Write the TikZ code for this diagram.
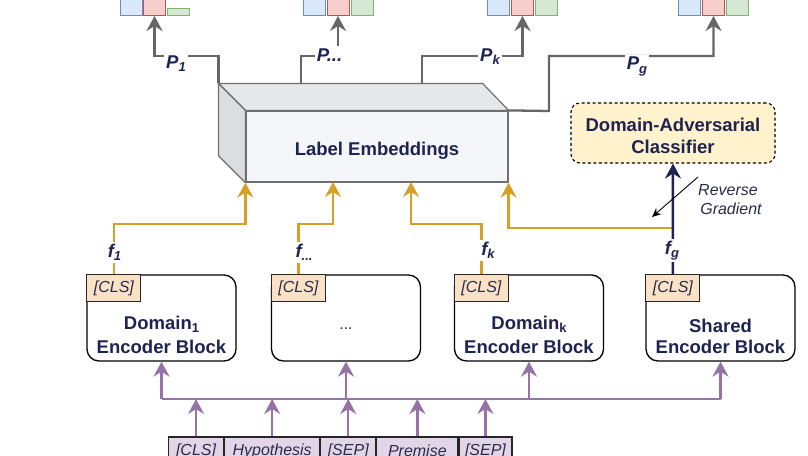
\documentclass[tikz,border=0pt]{standalone}
\usepackage{fontspec}
\setmainfont{Liberation Sans}
\usetikzlibrary{arrows.meta,calc}
\definecolor{navy}{HTML}{1F2352}
\definecolor{greyl}{HTML}{666666}
\definecolor{goldc}{HTML}{D5A028}
\definecolor{purpc}{HTML}{9673A6}
\definecolor{pfill}{HTML}{E1D5E7}
\definecolor{clsfill}{HTML}{FAE2C6}
\definecolor{yfill}{HTML}{FFF2CC}
\definecolor{embfront}{HTML}{F4F6FA}
\definecolor{embtop}{HTML}{E6E7EA}
\definecolor{embside}{HTML}{DCDDE0}
\definecolor{embstroke}{HTML}{6F6F6F}
\definecolor{bfill}{HTML}{DAE8FC}
\definecolor{bstroke}{HTML}{6C8EBF}
\definecolor{rfill}{HTML}{F8CECC}
\definecolor{rstroke}{HTML}{B85450}
\definecolor{gfill}{HTML}{D5E8D4}
\definecolor{gstroke}{HTML}{82B366}
\definecolor{txtc}{HTML}{2A2C48}
\newcommand\sbs[1]{\raisebox{-3.5pt}{\fontsize{13}{13}\selectfont #1}}
\tikzset{
  lbl/.style={font=\fontsize{18.5}{22}\selectfont\bfseries, text=navy, inner sep=0pt},
  bili/.style={font=\fontsize{18.5}{22}\selectfont\bfseries\itshape, text=navy, fill=white, inner sep=2pt},
  itl/.style={font=\fontsize{16}{19}\selectfont\itshape, text=txtc},
  arr/.style={-{Stealth[length=15pt,width=16pt,inset=5pt]}},
  bar/.style={draw, line width=0.9pt, minimum width=22pt, anchor=south, inner sep=0pt},
  bb/.style={fill=bfill, draw=bstroke},
  rb/.style={fill=rfill, draw=rstroke},
  gb/.style={fill=gfill, draw=gstroke},
  enc/.style={draw=black, line width=1.3pt, rounded corners=12pt, minimum width=149pt, minimum height=86pt, inner sep=0pt, fill=white},
  clsbox/.style={draw=black!85, line width=1.1pt, fill=clsfill, minimum width=54pt, minimum height=27pt, inner sep=0pt, anchor=north west, itl},
  tok/.style={draw=black!85, line width=1.1pt, fill=pfill, minimum height=28pt, inner sep=0pt, anchor=west, itl},
  purp/.style={draw=purpc, line width=2.3pt},
  gold/.style={draw=goldc, line width=2.3pt},
  grl/.style={draw=greyl, line width=2.3pt},
  navl/.style={draw=navy, line width=2.5pt},
}
\begin{document}
\begin{tikzpicture}[x=1pt,y=-1pt]
\useasboundingbox (0,0) rectangle (808,455);

% top bars
\node[bar,bb,minimum height=34pt] (bl1) at (131,16) {};
\node[bar,rb,minimum height=34pt] (r1) at (154.5,16) {};
\node[bar,gb,minimum height=7pt] (g1) at (178.5,16) {};
\node[bar,bb,minimum height=34pt] (bl2) at (314.5,16) {};
\node[bar,rb,minimum height=34pt] (r2) at (338,16) {};
\node[bar,gb,minimum height=34pt] (g2) at (362,16) {};
\node[bar,bb,minimum height=34pt] (bl3) at (498,16) {};
\node[bar,rb,minimum height=34pt] (r3) at (522.5,16) {};
\node[bar,gb,minimum height=34pt] (g3) at (546.5,16) {};
\node[bar,bb,minimum height=34pt] (bl4) at (689,16) {};
\node[bar,rb,minimum height=34pt] (r4) at (713.5,16) {};
\node[bar,gb,minimum height=34pt] (g4) at (737.5,16) {};

% label embeddings 3D box
\node[draw=embstroke, fill=embfront, line width=1.2pt, minimum width=262pt, minimum height=71pt, inner sep=0pt] (emb) at (377,146.5) {};
\filldraw[fill=embtop, draw=embstroke, line width=1.2pt, line join=round]
  (emb.north west) -- ++(-27,-27) coordinate (bNW) -- ($(emb.north east)+(-26,-27)$) -- (emb.north east) -- cycle;
\filldraw[fill=embside, draw=embstroke, line width=1.2pt, line join=round]
  (emb.north west) -- (bNW) -- ($(emb.south west)+(-27,-27)$) -- (emb.south west) -- cycle;
\node[lbl, anchor=base] (embt) at (377,155) {Label Embeddings};

% classifier
\node[draw=black, dash pattern=on 3pt off 2.5pt, rounded corners=9pt, fill=yfill, line width=1.1pt, minimum width=204pt, minimum height=60pt, inner sep=0pt] (cls) at (673,133) {};
\node[lbl, anchor=base] (clst1) at (673,131) {Domain-Adversarial};
\node[lbl, anchor=base] (clst2) at (673,153) {Classifier};

% encoder blocks
\node[enc] (b1) at (161.5,318) {};
\node[enc] (b2) at (346,318) {};
\node[enc] (b3) at (529,318) {};
\node[enc] (b4) at (720.5,318) {};
\node[clsbox] (c1) at (b1.north west) {[CLS]};
\node[clsbox] (c2) at (b2.north west) {[CLS]};
\node[clsbox] (c3) at (b3.north west) {[CLS]};
\node[clsbox] (c4) at (b4.north west) {[CLS]};
\node[lbl, anchor=base] (d1a) at (161.5,329) {Domain\sbs{1}};
\node[lbl, anchor=base] (d1b) at (161.5,353) {Encoder Block};
\node[font=\fontsize{16}{19}\selectfont, text=txtc, anchor=base, inner sep=0pt] (d2a) at (346,329) {...};
\node[lbl, anchor=base] (d3a) at (529,329) {Domain\sbs{k}};
\node[lbl, anchor=base] (d3b) at (529,353) {Encoder Block};
\node[lbl, anchor=base] (d4a) at (720.5,332) {Shared};
\node[lbl, anchor=base] (d4b) at (720.5,353) {Encoder Block};

% tokens
\node[tok, minimum width=55pt] (t1) at (168,451) {[CLS]};
\node[tok, minimum width=95pt] (t2) at (t1.east) {Hypothesis};
\node[tok, minimum width=55pt] (t3) at (t2.east) {[SEP]};
\node[tok, minimum width=81pt] (t4) at (t3.east) {Premise};
\node[tok, minimum width=53pt] (t5) at (t4.east) {[SEP]};

% purple bus
\coordinate (bus) at (0,399);
\draw[purp] (b1.south |- bus) -- (b4.south |- bus);
\foreach \t in {t1,t2,t3,t4,t5} \draw[purp, arr] (\t.north) -- (\t.north |- bus);
\foreach \b in {b1,b2,b3,b4} \draw[purp, arr] (\b.south |- bus) -- (\b.south);

% gold
\coordinate (gy) at (0,224);
\coordinate (gy2) at (0,228);
\coordinate (in2) at (333,182);
\coordinate (in3) at (411,182);
\coordinate (jn) at (c4.north |- gy2);
\draw[gold, arr] (c1.north) -- (c1.north |- gy) -| (emb.south west);
\draw[gold, arr] (c2.north) -- (c2.north |- gy) -| (in2);
\draw[gold, arr] (c3.north) -- (c3.north |- gy) -| (in3);
\draw[gold, arr] (jn) -| (emb.south east);

% navy
\draw[navl, arr] (c4.north) -- (cls.south);

% reverse gradient
\coordinate (rgA) at (698,177);
\coordinate (rgB) at (652,217);
\draw[black, line width=0.9pt, -{Stealth[length=9pt,width=8pt]}] (rgA) -- (rgB);
\node[itl, anchor=base, inner sep=0pt] (rg1) at (728,195) {Reverse};
\node[itl, anchor=base, inner sep=0pt] (rg2) at (731,214) {Gradient};

% grey outputs
\coordinate (py) at (0,56);
\coordinate (p2s) at (301,84);
\coordinate (p3s) at (422,84);
\coordinate (p4s) at (549,111);
\draw[grl, arr] (bNW) -- (bNW |- py) -| (r1.south);
\draw[grl, arr] (p2s) -- (p2s |- py) -| (r2.south);
\draw[grl, arr] (p3s) -- (p3s |- py) -| (r3.south);
\draw[grl, arr] (emb.north east) -- (p4s) -- (p4s |- py) -| (r4.south);

% labels
\node[bili, anchor=base] (P1) at (176,68) {P\sbs{1}};
\node[bili, anchor=base] (P2) at (329.5,61) {P...};
\node[bili, anchor=base] (P3) at (490,61) {P\sbs{k}};
\node[bili, anchor=base] (P4) at (637,69.5) {P\sbs{g}};
\node[bili, anchor=base] (F1) at (114.5,257) {f\sbs{1}};
\node[bili, anchor=base] (F2) at (304,257) {f\sbs{...}};
\node[bili, anchor=base] (F3) at (488,255) {f\sbs{k}};
\node[bili, anchor=base] (F4) at (672,254) {f\sbs{g}};
\end{tikzpicture}
\end{document}
